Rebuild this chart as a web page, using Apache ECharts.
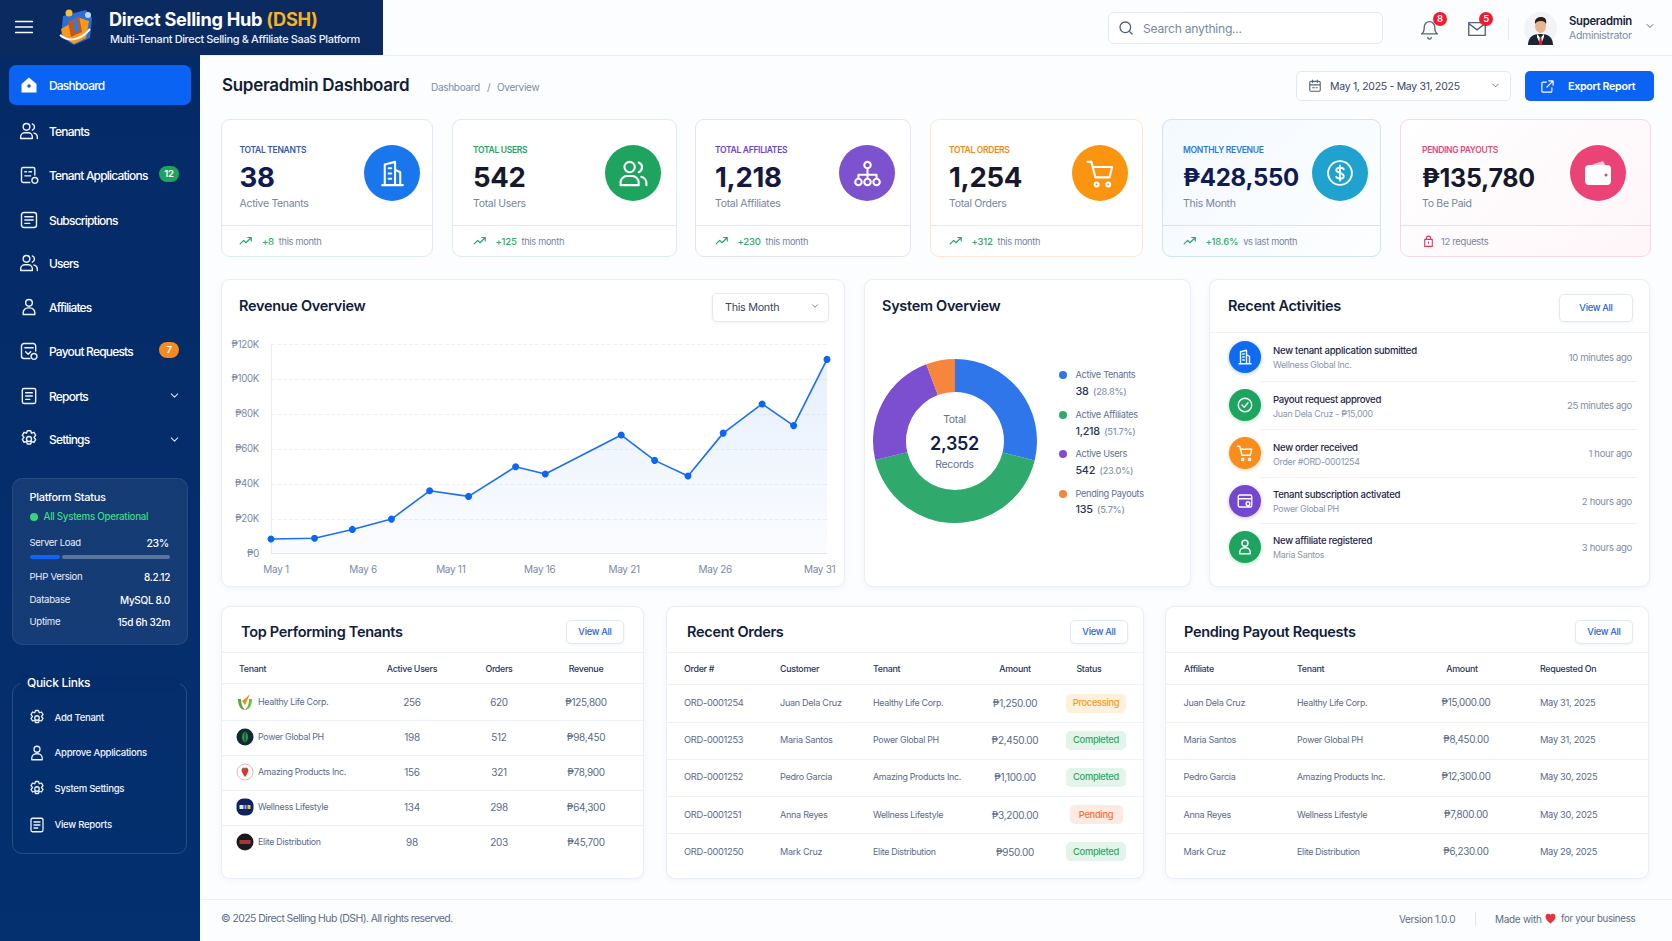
<!DOCTYPE html>
<html>
<head>
<meta charset="utf-8">
<title>Direct Selling Hub</title>
<script src="https://cdn.jsdelivr.net/npm/echarts@6/dist/echarts.min.js"></script>
<style>
html, body { margin: 0; padding: 0; width: 1672px; height: 941px; overflow: hidden; background: #fcfdff; font-family: Inter, "Noto Sans", sans-serif; color: #1c2541; letter-spacing: -0.3px; }
#app { position: absolute; left: 0; top: 0; width: 1672px; height: 941px; }
.box { position: absolute; box-sizing: border-box; }
.t { position: absolute; white-space: nowrap; line-height: 1; }
.card { background: #fff; border: 1px solid #e9eef7; border-radius: 9px; box-shadow: 0 2px 6px rgba(40,70,130,.05); }
.btn { background: #fff; border: 1px solid #e3e9f4; border-radius: 5px; box-shadow: 0 1px 3px rgba(40,70,130,.07); }
.line { position: absolute; height: 1px; background: #eef1f8; }
svg.i { position: absolute; fill: none; stroke: currentColor; stroke-width: 1.9; stroke-linecap: round; stroke-linejoin: round; }
#revenueChart { position: absolute; left: 221px; top: 330px; width: 623px; height: 256px; }
#systemChart { position: absolute; left: 865px; top: 345px; width: 180px; height: 192px; }
</style>
</head>
<body>
<div id="app"></div>
<div id="revenueChart"></div>
<div id="systemChart"></div>
<script>
// revenue line, day of month / value
var revenueDays = [1, 3.35, 5.39, 7.5, 9.56, 11.66, 14.2, 15.8, 19.9, 21.7, 23.5, 25.4, 27.5, 29.2, 31];
var revenueValues = [8400, 8800, 13900, 19800, 36000, 32800, 49800, 45600, 67900, 53400, 44500, 69000, 85700, 73300, 111200];
var tickDays = [1.27, 5.97, 10.7, 15.5, 20.05, 24.97, 30.6];
var tickLabels = ['May 1', 'May 6', 'May 11', 'May 16', 'May 21', 'May 26', 'May 31'];

// donut
var systemNames = ['Active Tenants', 'Active Affiliates', 'Active Users', 'Pending Payouts'];
var systemCounts = ['38', '1,218', '542', '135'];
var systemPercents = ['28.8%', '51.7%', '23.0%', '5.7%'];
var systemShares = [28.8, 42.5, 23.0, 5.7];
var systemColors = ['#2f76ea', '#2fa96c', '#7b4fd0', '#f7853c'];

// kpi cards
var kpiLabels = ['TOTAL TENANTS', 'TOTAL USERS', 'TOTAL AFFILIATES', 'TOTAL ORDERS', 'MONTHLY REVENUE', 'PENDING PAYOUTS'];
var kpiValues = ['38', '542', '1,218', '1,254', '₱428,550', '₱135,780'];
var kpiSubs = ['Active Tenants', 'Total Users', 'Total Affiliates', 'Total Orders', 'This Month', 'To Be Paid'];
var kpiDeltas = ['+8', '+125', '+230', '+312', '+18.6%', ''];
var kpiNotes = ['this month', 'this month', 'this month', 'this month', 'vs last month', '12 requests'];

// sidebar
var navLabels = ['Dashboard', 'Tenants', 'Tenant Applications', 'Subscriptions', 'Users', 'Affiliates', 'Payout Requests', 'Reports', 'Settings'];
var statusLabels = ['PHP Version', 'Database', 'Uptime'];
var statusValues = ['8.2.12', 'MySQL 8.0', '15d 6h 32m'];
var quickLinks = ['Add Tenant', 'Approve Applications', 'System Settings', 'View Reports'];

// activities
var activityTitles = ['New tenant application submitted', 'Payout request approved', 'New order received', 'Tenant subscription activated', 'New affiliate registered'];
var activitySubs = ['Wellness Global Inc.', 'Juan Dela Cruz - ₱15,000', 'Order #ORD-0001254', 'Power Global PH', 'Maria Santos'];
var activityTimes = ['10 minutes ago', '25 minutes ago', '1 hour ago', '2 hours ago', '3 hours ago'];

// tables
var tenantNames = ['Healthy Life Corp.', 'Power Global PH', 'Amazing Products Inc.', 'Wellness Lifestyle', 'Elite Distribution'];
var tenantUsers = ['256', '198', '156', '134', '98'];
var tenantOrders = ['620', '512', '321', '298', '203'];
var tenantRevenue = ['₱125,800', '₱98,450', '₱78,900', '₱64,300', '₱45,700'];
var orderIds = ['ORD-0001254', 'ORD-0001253', 'ORD-0001252', 'ORD-0001251', 'ORD-0001250'];
var orderCustomers = ['Juan Dela Cruz', 'Maria Santos', 'Pedro Garcia', 'Anna Reyes', 'Mark Cruz'];
var orderAmounts = ['₱1,250.00', '₱2,450.00', '₱1,100.00', '₱3,200.00', '₱950.00'];
var orderStatus = ['Processing', 'Completed', 'Completed', 'Pending', 'Completed'];
var payoutAmounts = ['₱15,000.00', '₱8,450.00', '₱12,300.00', '₱7,800.00', '₱6,230.00'];
var payoutDates = ['May 31, 2025', 'May 31, 2025', 'May 30, 2025', 'May 30, 2025', 'May 29, 2025'];

var ICONS = {
    menu: 'M3 6h18M3 12h18M3 18h18',
    users: 'M9 11a4 4 0 1 0 0-8 4 4 0 0 0 0 8zM2 21v-2a5 5 0 0 1 5-5h4a5 5 0 0 1 5 5v2zM16 3.5a4 4 0 0 1 0 7.5M18 14.5a5 5 0 0 1 4 5V21',
    doc: 'M19 12V5a2 2 0 0 0-2-2H5a2 2 0 0 0-2 2v14a2 2 0 0 0 2 2h8M7 8h2M12 8h3M7 13h7M19 15a3.5 3.5 0 1 0 0 7 3.5 3.5 0 0 0 0-7z',
    sub: 'M6 3h12a3 3 0 0 1 3 3v12a3 3 0 0 1-3 3H6a3 3 0 0 1-3-3V6a3 3 0 0 1 3-3zM7 8h10M7 12h10M7 16h6',
    user: 'M12 11a4 4 0 1 0 0-8 4 4 0 0 0 0 8zM5 21v-2a6 6 0 0 1 6-6h2a6 6 0 0 1 6 6v2z',
    payout: 'M20 12V6a3 3 0 0 0-3-3H6a3 3 0 0 0-3 3v12a3 3 0 0 0 3 3h7M7 8h10M18 15a3.5 3.5 0 1 0 0 7 3.5 3.5 0 0 0 0-7zM8 13l3 3 3-3',
    report: 'M6 3h12a2 2 0 0 1 2 2v14a2 2 0 0 1-2 2H6a2 2 0 0 1-2-2V5a2 2 0 0 1 2-2zM8 8h8M8 12h8M8 16h5',
    gear: 'M10 2h4l1 3 3-1 2 3.500-2 2.500 2 2.500-2 3.500-3-1-1 3h-4l-1-3-3 1-2-3.500 2-2.500-2-2.500 2-3.500 3 1zM12 9a3 3 0 1 0 0 6 3 3 0 0 0 0-6z',
    chev: 'M6 9l6 6 6-6',
    search: 'M11 3a8 8 0 1 0 0 16 8 8 0 0 0 0-16zM21 21l-4.500-4.500',
    bell: 'M6 9a6 6 0 1 1 12 0c0 6 3 8 3 8H3s3-2 3-8zM10 21a2 2 0 0 0 4 0',
    mail: 'M3 5h18v14H3zM3 6l9 7 9-7',
    cal: 'M5 4h14a2 2 0 0 1 2 2v13a2 2 0 0 1-2 2H5a2 2 0 0 1-2-2V6a2 2 0 0 1 2-2zM3 10h18M8 2v4M16 2v4M8 15h3M14 15h2',
    export: 'M14 3h7v7M21 3l-10 10M19 14v5a2 2 0 0 1-2 2H5a2 2 0 0 1-2-2V7a2 2 0 0 1 2-2h5',
    build: 'M4 21h16M6 21V5l8-2v18M14 9l4 2v10M9 8h2M9 12h2M9 16h2',
    net: 'M12 3a2.500 2.500 0 1 0 0 5 2.500 2.500 0 0 0 0-5zM12 8v5M5 13h14M5 13v3M19 13v3M12 13v3M5 16a2.500 2.500 0 1 0 0 5 2.500 2.500 0 0 0 0-5zM12 16a2.500 2.500 0 1 0 0 5 2.500 2.500 0 0 0 0-5zM19 16a2.500 2.500 0 1 0 0 5 2.500 2.500 0 0 0 0-5z',
    cart: 'M2 3h3l3 12h11l2-8H6M9 19a1.500 1.500 0 1 0 0 3 1.500 1.500 0 0 0 0-3zM18 19a1.500 1.500 0 1 0 0 3 1.500 1.500 0 0 0 0-3z',
    dollar: 'M12 2.500a9.500 9.500 0 1 0 0 19 9.500 9.500 0 0 0 0-19zM15 9c-.5-1.500-5.500-2-6 .5s6 2 6 5-5.500 2-6 .5M12 6v12',
    trend: 'M2 17l6-6 4 4 9-9M15 6h6v6',
    bag: 'M5 8h14v13H5zM8 8V6a4 4 0 0 1 8 0v2M12 13v2',
    check: 'M12 3a9 9 0 1 0 0 18 9 9 0 0 0 0-18zM8 12l3 3 5-6',
    subs: 'M5 4h14a2 2 0 0 1 2 2v12a2 2 0 0 1-2 2H5a2 2 0 0 1-2-2V6a2 2 0 0 1 2-2zM3 9h18M16 13a2.500 2.500 0 1 0 0 5 2.500 2.500 0 0 0 0-5z'
};

// small tenant logos, 18x18
var TENANT_LOGOS = [
    '<path d="M2 6c0 7 3 11 7 11C6 14 5 10 5 6z" fill="#5aa63a"/><path d="M16 6c0 7-3 11-7 11 3-3 4-7 4-11z" fill="#7dbb3e"/><path d="M6 8l3 4 5-11-4 4z" fill="#f08a24"/>',
    '<circle cx="9" cy="9" r="8.500" fill="#0f2a33"/><path d="M9 3c4 3 4 9 0 12-4-3-4-9 0-12z" fill="#2f9a44"/><path d="M9 3v12" stroke="#0f2a33"/>',
    '<circle cx="9" cy="9" r="8" fill="#fff" stroke="#e9b3b3"/><path d="M9 5c3-1 4 2 3 4s-2 4-3 5c-1-1-2-3-3-5s0-5 3-4z" fill="#d9333c"/><path d="M7 5l2 1.500L11 5" stroke="#3d9a4a" fill="none"/>',
    '<rect x=".5" y=".5" width="17" height="17" rx="7" fill="#10235e"/><rect x="3.500" y="7" width="4" height="4" fill="#dfe7f6"/><rect x="8.500" y="7" width="2" height="4" fill="#8fb0e8"/><rect x="11.500" y="7" width="3" height="4" fill="#e6c64a"/>',
    '<circle cx="9" cy="9" r="8.500" fill="#1a1a1e"/><rect x="3.500" y="7" width="11" height="4" fill="#a8353a"/>'
];

var html = '';

function px(v) {
    return v + 'px';
}

function txt(x, y, s, size, color, weight, align, spacing) {
    var tx = align == 'r' ? '-100%' : (align == 'c' ? '-50%' : '0');
    // larger text sits a little high in its line box
    var top = size >= 10.5 ? y + 0.8 : y;
    html += '<div class="t" style="left:' + px(x) + ';top:' + px(top) + ';font-size:' + px(size) + ';color:' + color + ';font-weight:' + (weight || 400) +
        (spacing ? ';letter-spacing:' + px(spacing) : '') + ';transform:translate(' + tx + ',-50%)">' + s + '</div>';
}

function box(x, y, w, h, cls, style) {
    html += '<div class="box ' + (cls || '') + '" style="left:' + px(x) + ';top:' + px(y) + ';width:' + px(w) + ';height:' + px(h) + ';' + (style || '') + '"></div>';
}

function hline(x, y, w, color) {
    html += '<div class="line" style="left:' + px(x) + ';top:' + px(y) + ';width:' + px(w) + (color ? ';background:' + color : '') + '"></div>';
}

function icon(name, cx, cy, size, color, width) {
    html += '<svg class="i" viewBox="0 0 24 24" style="left:' + px(cx - size / 2) + ';top:' + px(cy - size / 2) + ';width:' + px(size) + ';height:' + px(size) + ';color:' + color +
        (width ? ';stroke-width:' + width : '') + '"><path d="' + ICONS[name] + '"/></svg>';
}

function disc(cx, cy, r, color, extra) {
    box(cx - r, cy - r, r * 2, r * 2, '', 'border-radius:50%;background:' + color + ';' + (extra || ''));
}

function rawSvg(x, y, w, h, inner) {
    html += '<svg style="position:absolute;left:' + px(x) + ';top:' + px(y) + '" width="' + w + '" height="' + h + '" viewBox="0 0 ' + w + ' ' + h + '">' + inner + '</svg>';
}

/** sidebar and header */
function drawShell() {
    box(0, 0, 200, 941, '', 'background:linear-gradient(180deg,#052a66,#04306f)');
    box(0, 0, 383, 55, '', 'background:#0a2a60');
    hline(383, 55, 1289, '#e9edf5');
    hline(200, 55, 183, '#e9edf5');
    icon('menu', 24, 27, 22, '#fff');
    rawSvg(56, 7, 40, 40,
        '<path d="M7 9 30 3l6 8-2 20-16 7-13-8z" fill="#2a6fd6"/><path d="M5 22 24 11l9 3-3 17-12 6-11-7z" fill="#f59a1c"/><path d="M12 15l11-6 3 16-11 5z" fill="#c9551a"/><path d="M17 13l4-2 2 13-4 2z" fill="#2e7fdc"/><circle cx="13" cy="6" r="3.500" fill="#f5c23c"/><circle cx="32" cy="8" r="3" fill="#bcd6f6"/><path d="M4 28c8 7 20 6 30-6" stroke="#fff" stroke-width="2" fill="none"/>');
    txt(109, 18.500, 'Direct Selling Hub <span style="color:#f9b31b">(DSH)</span>', 18.200, '#fff', 700);
    txt(110, 38, 'Multi-Tenant Direct Selling &amp; Affiliate SaaS Platform', 11, '#eaf0fb', 500, '', -0.36);

    box(9, 65, 182, 40, '', 'background:#0b63f3;border-radius:7px');
    var ys = [85, 131, 175, 220, 263, 307, 351, 396, 439];
    var ic = ['', 'users', 'doc', 'sub', 'users', 'user', 'payout', 'report', 'gear'];
    for (var i = 0; i < navLabels.length; i++) {
        if (i == 0) {
            rawSvg(20, 76, 18, 18, '<path d="M9 1.500 16.500 8v8.500h-15V8z" fill="#fff"/><circle cx="9" cy="10" r="1.800" fill="#0b63f3"/>');
        } else {
            icon(ic[i], 29, ys[i], 20, '#eef3fc', 1.700);
        }
        txt(49, ys[i], navLabels[i], 12, '#fff', 500, '', -0.8);
    }
    box(159, 166, 20, 16, '', 'background:#1fa45f;border-radius:8px');
    txt(169, 174, '12', 9.500, '#fff', 600, 'c');
    box(159, 342, 20, 16, '', 'background:#f58a1f;border-radius:8px');
    txt(169, 350, '7', 9.500, '#fff', 600, 'c');
    icon('chev', 174, 395, 13, '#dfe7f6');
    icon('chev', 174, 439, 13, '#dfe7f6');

    box(12, 478, 176, 167, '', 'background:rgba(255,255,255,.07);border:1px solid rgba(255,255,255,.08);border-radius:10px');
    txt(29.500, 496, 'Platform Status', 11, '#fff', 500);
    disc(34, 517, 4, '#34d67b');
    txt(43.500, 517, 'All Systems Operational', 9.800, '#3fd98a', 500);
    txt(29.500, 543, 'Server Load', 9.500, '#e9eefa');
    txt(169, 543, '23%', 10.500, '#fff', 500, 'r');
    box(29.500, 555, 30, 4, '', 'background:#0b66f5;border-radius:2px');
    box(62, 555, 108, 4, '', 'background:rgba(255,255,255,.3);border-radius:2px');
    var sy = [577, 600, 622];
    for (var j = 0; j < 3; j++) {
        txt(29.500, sy[j], statusLabels[j], 9.600, '#e9eefa');
        txt(170, sy[j], statusValues[j], 10, '#fff', 500, 'r');
    }
    box(12, 683, 175, 171, '', 'border:1px solid rgba(255,255,255,.14);border-radius:10px');
    box(20, 675, 160, 16, '', 'background:#052d6b');
    txt(27, 682, 'Quick Links', 12, '#fff', 500);
    var qy = [718, 753, 789, 825];
    var qi = ['gear', 'user', 'gear', 'report'];
    for (var k = 0; k < 4; k++) {
        icon(qi[k], 37, qy[k], 18, '#eef3fc', 1.700);
        txt(54.500, qy[k], quickLinks[k], 9.600, '#eef3fc', 500);
    }

    // top bar
    box(1108, 12, 275, 32, 'btn', 'box-shadow:none;border-radius:6px');
    icon('search', 1126, 28, 16, '#4f5d78');
    txt(1143, 28, 'Search anything...', 12.200, '#7c88a3');
    icon('bell', 1429, 29, 21, '#55627c', 1.500);
    disc(1440, 19, 7, '#ee1c2e');
    txt(1440, 19, '8', 9.500, '#fff', 600, 'c');
    icon('mail', 1477, 29, 22, '#55627c', 1.500);
    disc(1486, 19, 7, '#ee1c2e');
    txt(1486, 19, '5', 9.500, '#fff', 600, 'c');
    box(1508, 18, 1, 22, '', 'background:#e6eaf2');
    rawSvg(1524, 12, 33, 33,
        '<circle cx="16.500" cy="16.500" r="16.500" fill="#f2f3f6"/><path d="M4 33c0-8 5-11 12.500-11S29 25 29 33z" fill="#1d2433"/><path d="M13 22l3.500 4 3.500-4v3l-3.500 8-3.500-8z" fill="#fff"/><path d="M15.800 25h1.500l1 8h-3.500z" fill="#c8202d"/><ellipse cx="16.500" cy="14" rx="5.500" ry="7" fill="#e8b48f"/><path d="M11 12c-.5-5 2-7 6-7s6 2.500 5 7c-1-2-2-3-5-3s-5 1-6 3z" fill="#2b2019"/>');
    txt(1569, 21, 'Superadmin', 11.300, '#1a2238', 600);
    txt(1569, 35, 'Administrator', 10.500, '#7f8ba3');
    icon('chev', 1650, 26, 12, '#55627c');

    // page title
    txt(222, 84.500, 'Superadmin Dashboard', 17, '#161d33', 600);
    txt(431, 87, 'Dashboard', 10, '#7f8ba3');
    txt(487, 87, '/', 10, '#7f8ba3');
    txt(497, 87, 'Overview', 10, '#7f8ba3');
    box(1296, 71, 215, 30, 'btn', 'box-shadow:none');
    icon('cal', 1315, 86, 14, '#55627c');
    txt(1330, 86, 'May 1, 2025 - May 31, 2025', 10.500, '#3c4660');
    icon('chev', 1495, 85, 11, '#55627c');
    box(1525, 71, 129, 30, '', 'background:#0b63f3;border-radius:5px');
    icon('export', 1547, 86, 15, '#fff');
    txt(1568, 86, 'Export Report', 10.700, '#fff', 600);

    // footer
    hline(200, 899, 1472, '#edf0f7');
    txt(221, 918, '© 2025 Direct Selling Hub (DSH). All rights reserved.', 10.500, '#5f6b85', 400, '', -0.58);
    txt(1399, 919, 'Version 1.0.0', 10, '#5f6b85');
    box(1475, 912, 1, 14, '', 'background:#dfe4ee');
    txt(1495, 919, 'Made with', 10, '#5f6b85');
    rawSvg(1545, 913, 11, 11, '<path d="M5.500 10.500C1 7 .5 5 .5 3.500A2.700 2.700 0 0 1 5.500 2a2.700 2.700 0 0 1 5 1.500c0 1.500-.5 3.500-5 7z" fill="#e5343e"/>');
    txt(1561, 919, 'for your business', 9.700, '#5f6b85');
}

function drawKpis() {
    var lefts = [221, 452, 695, 930, 1162, 1400];
    var rights = [433, 677, 911, 1143, 1381, 1651];
    var pads = [18.500, 21, 20, 19, 21, 22];
    var circleX = [392, 633, 867, 1100, 1339.500, 1598];
    var valueSize = [27.500, 27.500, 27.500, 27.500, 24, 25];
    var colors = ['#1976ec', '#1fa45f', '#7c52cf', '#fb9410', '#1fa2cf', '#ec4377'];
    var labelC = ['#3a58a8', '#1fa45f', '#6b46c4', '#f28a14', '#1f7be0', '#dd4b7a'];
    var valueC = ['#101a55', '#15192b', '#15193f', '#15192b', '#101a55', '#15192b'];
    var borders = ['#dfeaf9', '#dcefe6', '#e7e1f6', '#fbe7d6', '#cfe3f9', '#fad8e3'];
    var bgs = ['#fff', '#fff', '#fff', '#fff', 'linear-gradient(135deg,#f3f9fe,#fdfeff)', 'linear-gradient(135deg,#fff,#fef6f9)'];
    var names = ['build', 'users', 'net', 'cart', 'dollar', ''];
    for (var i = 0; i < 6; i++) {
        var x = lefts[i];
        var tx = x + pads[i];
        box(x, 119, rights[i] - x, 138, '', 'background:' + bgs[i] + ';border:1.300px solid ' + borders[i] + ';border-radius:9px');
        hline(x + 1, 225, rights[i] - x - 2, borders[i]);
        txt(tx, 150, kpiLabels[i], 8.500, labelC[i], 600);
        txt(tx, 177, kpiValues[i], valueSize[i], valueC[i], 700);
        txt(tx, 203, kpiSubs[i], 10.500, '#78849e');
        disc(circleX[i], 173, 28, colors[i]);
        if (i == 5) {
            rawSvg(circleX[i] - 14, 160, 28, 26, '<path d="M4 6 19 1l3 5z" fill="#f7c3d3"/><rect x="1" y="5" width="26" height="20" rx="4" fill="#fff"/><circle cx="22" cy="15" r="1.500" fill="#ec4377"/>');
            icon('bag', tx + 6, 241, 13, '#e8335f', 2);
            txt(tx + 19, 241.800, kpiNotes[i], 9.400, '#78849e');
        } else {
            icon(names[i], circleX[i], 173, i == 4 ? 30 : 31, '#fff', i == 4 ? 1.500 : 1.600);
            icon('trend', tx + 6.500, 241, 14, '#23a566', 2);
            txt(tx + 22.500, 241.800, kpiDeltas[i] + '<span style="color:#78849e;font-weight:400;margin-left:5px;font-size:9.200px">' + kpiNotes[i] + '</span>', 9.600, '#35aa70', 500);
        }
    }
}

function cardHead(x, y, w, h, title, tx, viewX) {
    box(x, y, w, h, 'card');
    txt(tx, y + (viewX ? 25.500 : 26), title, 14.500, '#141c38', 600);
    if (viewX) {
        box(viewX, y + 14, 58, 24, 'btn');
        txt(viewX + 29, y + 26, 'View All', 9.300, '#2b63d8', 500, 'c');
    }
}

function drawPanels() {
    cardHead(221, 279, 624, 308, 'Revenue Overview', 239);
    box(712, 293, 117, 29, 'btn');
    txt(725, 307, 'This Month', 10.800, '#3c4660');
    icon('chev', 815, 306, 10, '#55627c');

    cardHead(864, 279, 327, 308, 'System Overview', 882);
    var ly = [375, 415, 454, 493.500];
    for (var i = 0; i < 4; i++) {
        disc(1063, ly[i], 4, systemColors[i]);
        txt(1075.500, ly[i], systemNames[i], 9.200, '#63708c');
        txt(1075.500, ly[i] + 16, systemCounts[i] + ' <span style="color:#8a95ac;font-size:9.200px;margin-left:2px">(' + systemPercents[i] + ')</span>', 10.800, '#2a3352', 500);
    }

    cardHead(1209, 279, 441, 308, 'Recent Activities', 1228);
    box(1559, 294, 74, 28, 'btn');
    txt(1596, 308, 'View All', 9.300, '#2b63d8', 500, 'c');
    hline(1210, 332, 439);
    var cy = [357, 405, 453, 501, 547];
    var tY = [351, 400, 448, 495, 541];
    var c = ['#0f6cf0', '#1fa45f', '#fb8c1e', '#7447cf', '#1fa45f'];
    var ic = ['build', 'check', 'cart', 'subs', 'user'];
    for (var j = 0; j < 5; j++) {
        disc(1245, cy[j], 16, c[j], 'box-shadow:0 1px 4px ' + c[j] + '55');
        icon(ic[j], 1245, cy[j], 18, '#fff', 1.800);
        txt(1273, tY[j], activityTitles[j], 9.600, '#1f2744', 500);
        txt(1273, tY[j] + 14, activitySubs[j], 8.900, '#8a95ac');
        txt(1632, cy[j] + 1, activityTimes[j], 9.500, '#7f8ba3', 400, 'r');
        if (j < 4) {
            hline(1261, [381, 429, 477, 523][j], 376);
        }
    }
}

function drawTables() {
    var i;
    var grey = '#5d6a86';
    var head = '#2c3552';
    // top tenants
    cardHead(221, 606, 423, 273, 'Top Performing Tenants', 241, 566);
    hline(222, 652, 421);
    hline(222, 683, 421);
    txt(239, 669, 'Tenant', 8.900, head, 500);
    txt(412, 669, 'Active Users', 8.900, head, 500, 'c');
    txt(499, 669, 'Orders', 8.900, head, 500, 'c');
    txt(586, 669, 'Revenue', 8.900, head, 500, 'c');
    for (i = 0; i < 5; i++) {
        var y = 702 + i * 35;
        rawSvg(236, y - 9, 18, 18, TENANT_LOGOS[i]);
        txt(258, y, tenantNames[i], 8.900, grey);
        txt(412, y, tenantUsers[i], 10, grey, 400, 'c');
        txt(499, y, tenantOrders[i], 10, grey, 400, 'c');
        txt(586, y, tenantRevenue[i], 10, grey, 400, 'c');
        if (i < 4) {
            hline(222, y + 17.500, 421);
        }
    }
    // recent orders
    cardHead(666, 606, 478, 273, 'Recent Orders', 687, 1070);
    hline(667, 652, 476);
    hline(667, 684, 476);
    txt(684, 669, 'Order #', 8.900, head, 500);
    txt(780, 669, 'Customer', 8.900, head, 500);
    txt(873, 669, 'Tenant', 8.900, head, 500);
    txt(1015, 669, 'Amount', 8.900, head, 500, 'c');
    txt(1089, 669, 'Status', 8.900, head, 500, 'c');
    var st = {
        Processing : ['#fdf1dc', '#f59a1e', 60],
        Completed : ['#e3f5ea', '#2ba866', 60],
        Pending : ['#fdebe2', '#f4703a', 53]
    };
    for (i = 0; i < 5; i++) {
        var oy = 703 + i * 37.2;
        txt(684, oy, orderIds[i], 9.300, grey);
        txt(780, oy, orderCustomers[i], 9.100, grey);
        txt(873, oy, tenantNames[i], 8.900, grey);
        txt(1015, oy, orderAmounts[i], 10, grey, 400, 'c');
        var s = st[orderStatus[i]];
        box(1096 - s[2] / 2, oy - 9.500, s[2], 19, '', 'background:' + s[0] + ';border-radius:5px');
        txt(1096, oy, orderStatus[i], 9.300, s[1], 500, 'c');
        if (i < 4) {
            hline(667, oy + 18.500, 476);
        }
    }
    // pending payouts
    cardHead(1165, 606, 484, 273, 'Pending Payout Requests', 1184, 1575);
    hline(1166, 652, 482);
    hline(1166, 684, 482);
    txt(1184, 669, 'Affiliate', 8.900, head, 500);
    txt(1297, 669, 'Tenant', 8.900, head, 500);
    txt(1462, 669, 'Amount', 8.900, head, 500, 'c');
    txt(1540, 669, 'Requested On', 8.900, head, 500);
    for (i = 0; i < 5; i++) {
        var py = 703 + i * 37.2;
        txt(1183.500, py, orderCustomers[i], 9.100, grey);
        txt(1297, py, tenantNames[i], 8.900, grey);
        txt(1466, py, payoutAmounts[i], 9.800, grey, 400, 'c');
        txt(1540, py, payoutDates[i], 9.300, grey);
        if (i < 4) {
            hline(1166, py + 18.500, 482);
        }
    }
}

drawShell();
drawKpis();
drawPanels();
drawTables();
document.getElementById('app').innerHTML = html;

function setRevenueOption() {
    var points = [];
    for (var i = 0; i < revenueDays.length; i++) {
        points.push([revenueDays[i], revenueValues[i]]);
    }
    var chart = echarts.init(document.getElementById('revenueChart'), null, { renderer : 'svg' });
    chart.setOption({
        animation : false,
        textStyle : { fontFamily : 'Inter' },
        grid : { left : 50, right : 17, top : 14, bottom : 32.3 },
        xAxis : {
            type : 'value',
            min : 1,
            max : 31,
            splitLine : { show : false },
            axisTick : { show : false },
            axisLine : { show : true, lineStyle : { color : '#e4e9f3' } },
            axisLabel : {
                customValues : tickDays,
                margin : 10,
                fontSize : 10,
                color : '#7d89a3',
                formatter : function(value) {
                    return tickLabels[tickDays.indexOf(value)];
                }
            }
        },
        yAxis : {
            type : 'value',
            min : 0,
            max : 120000,
            interval : 20000,
            axisLine : { show : true, lineStyle : { color : '#e9edf5' } },
            axisTick : { show : false },
            splitLine : { lineStyle : { color : '#f0f2f8', type : 'dashed' } },
            axisLabel : {
                margin : 12,
                fontSize : 9.7,
                color : '#7d89a3',
                padding : [ 0, 0, 3, 0 ],
                formatter : function(value) {
                    return '₱' + value / 1000 + (value ? 'K' : '');
                }
            }
        },
        series : [ {
            type : 'line',
            data : points,
            symbol : 'circle',
            symbolSize : 7,
            itemStyle : { color : '#0b66f5' },
            lineStyle : { color : '#1a70f0', width : 1.6 },
            areaStyle : {
                color : new echarts.graphic.LinearGradient(0, 0, 0, 1, [ { offset : 0, color : 'rgba(35,115,240,0.16)' }, { offset : 1, color : 'rgba(35,115,240,0.03)' } ])
            }
        } ]
    });
}

function setSystemOption() {
    var data = [];
    for (var i = 0; i < systemNames.length; i++) {
        data.push({ name : systemNames[i], value : systemShares[i], itemStyle : { color : systemColors[i] } });
    }
    var chart = echarts.init(document.getElementById('systemChart'), null, { renderer : 'svg' });
    chart.setOption({
        animation : false,
        textStyle : { fontFamily : 'Inter' },
        title : [
            { text : 'Total', left : 89.5, top : 69, padding : 0, textAlign : 'center', textStyle : { fontSize : 10.5, fontWeight : 400, color : '#66728c' } },
            { text : '2,352', left : 89.5, top : 89, padding : 0, textAlign : 'center', textStyle : { fontSize : 18, fontWeight : 600, color : '#141c48' } },
            { text : 'Records', left : 89.5, top : 114, padding : 0, textAlign : 'center', textStyle : { fontSize : 10.5, fontWeight : 400, color : '#66728c' } }
        ],
        series : [ {
            type : 'pie',
            center : [ 90, 96 ],
            radius : [ 49, 82 ],
            startAngle : 90,
            clockwise : true,
            silent : true,
            label : { show : false },
            labelLine : { show : false },
            data : data
        } ]
    });
}

setRevenueOption();
setSystemOption();
</script>
</body>
</html>
